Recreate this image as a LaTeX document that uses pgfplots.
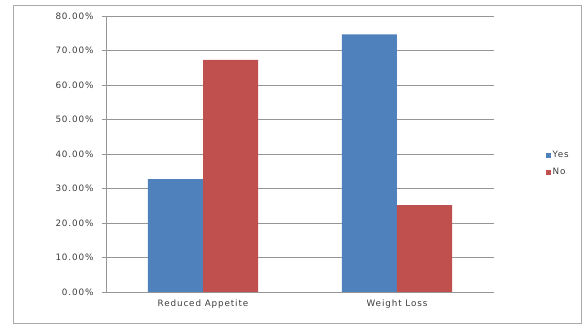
\documentclass[border=0pt]{standalone}
\usepackage{fontspec}
\setmainfont[LetterSpace=10]{DejaVu Sans}
\usepackage{pgfplots}
\pgfplotsset{compat=1.18}

\definecolor{barblue}{RGB}{79,129,189}
\definecolor{barred}{RGB}{192,80,77}
\definecolor{gridgray}{RGB}{150,150,150}
\definecolor{framegray}{RGB}{170,170,170}
\definecolor{textgray}{RGB}{60,60,60}

\begin{document}
\begin{tikzpicture}[font=\fontsize{8.8}{10.5}\selectfont, x=1pt, y=1pt]
  \useasboundingbox (0,0) rectangle (582,324);
  % outer chart border
  \draw[framegray, line width=0.8pt] (13,1) rectangle (581,319);
  \begin{axis}[
    at={(106pt,32pt)}, anchor=south west,
    width=388pt, height=276pt, scale only axis,
    ybar=0pt, bar width=55pt,
    xmin=-0.5, xmax=1.5,
    ymin=0, ymax=80,
    ytick={0,10,...,80},
    xtick={0,1},
    xticklabels={Reduced Appetite, Weight Loss},
    x tick style={draw=none},
    extra x ticks={-0.5,0.5,1.5},
    extra x tick labels={},
    extra x tick style={major tick length=4pt, tick style={draw=gridgray, line width=0.8pt}, grid=none},
    /pgf/number format/assume math mode=true,
    yticklabel={\pgfmathprintnumber[fixed,fixed zerofill,precision=2]{\tick}\%},
    yticklabel style={xshift=-5pt},
    ymajorgrids,
    grid style={gridgray, line width=0.8pt},
    axis lines*=left,
    axis line style={gridgray, line width=0.8pt},
    tick align=outside,
    major tick length=4pt,
    y tick style={gridgray, line width=0.8pt},
    tick label style={text=textgray},
    legend style={draw=none, fill=none, at={(1.125,0.465)}, anchor=west,
      row sep=5pt, font=\fontsize{8.8}{10.5}\selectfont, text=textgray,
      legend cell align=left},
    legend image code/.code={\fill[#1] (-4pt,-2.5pt) rectangle (1pt,2.5pt);},
  ]
    \addplot[fill=barblue, draw=none] coordinates {(0,32.7) (1,74.7)};
    \addplot[fill=barred, draw=none] coordinates {(0,67.3) (1,25.2)};
    \legend{Yes, No}
  \end{axis}
\end{tikzpicture}
\end{document}
